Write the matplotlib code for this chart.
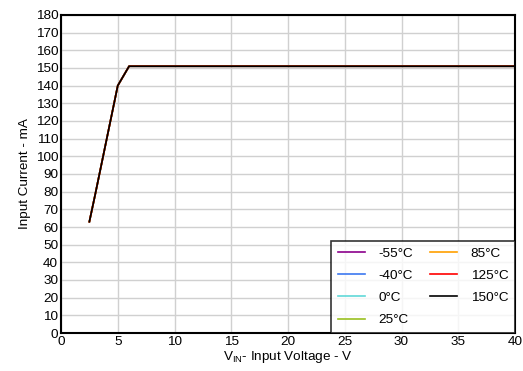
import matplotlib
matplotlib.use('Agg')
import matplotlib.pyplot as plt

plt.rcParams['font.family'] = ['Liberation Sans', 'DejaVu Sans']
plt.rcParams['font.size'] = 9.7

# data (all temperatures overlap)
vin = [2.5, 3, 4, 5, 6, 10, 15, 20, 25, 30, 35, 40]
iin = [63, 78, 109, 140, 151, 151, 151, 151, 151, 151, 151, 151]
labels = ['-55°C', '-40°C', '0°C', '25°C', '85°C', '125°C', '150°C']
colors = ['#8B008B', '#3C78F0', '#60D8D8', '#9AC020', '#FFA000', '#FF0000', '#000000']

fig = plt.figure(figsize=(5.23, 3.71), dpi=100)
ax = fig.add_axes([61/523, 38/371, 454/523, 318/371])
ax.grid(color='#d0d0d0', linewidth=1)
ax.set_axisbelow(True)

for lab, col in zip(labels, colors):
  ax.plot(vin, iin, color=col, linewidth=1.2, label=lab)

ax.set_xlim(0, 40)
ax.set_ylim(0, 180)
ax.set_xticks(range(0, 41, 5))
ax.set_yticks(range(0, 181, 10))
ax.tick_params(length=0, pad=2)
for s in ax.spines.values():
  s.set_linewidth(1.5)

ax.set_xlabel('V$_{\\mathregular{IN}}$- Input Voltage - V', labelpad=1)
ax.set_ylabel('Input Current - mA', labelpad=3)

leg = ax.legend(loc='lower right', ncol=2, frameon=True, fancybox=False,
                borderaxespad=0, handlelength=2.0, columnspacing=1.3,
                labelspacing=0.72, borderpad=0.5, handletextpad=1.0)
leg.get_frame().set_edgecolor('black')
leg.get_frame().set_linewidth(1.2)

plt.savefig('out.png', dpi=100)
